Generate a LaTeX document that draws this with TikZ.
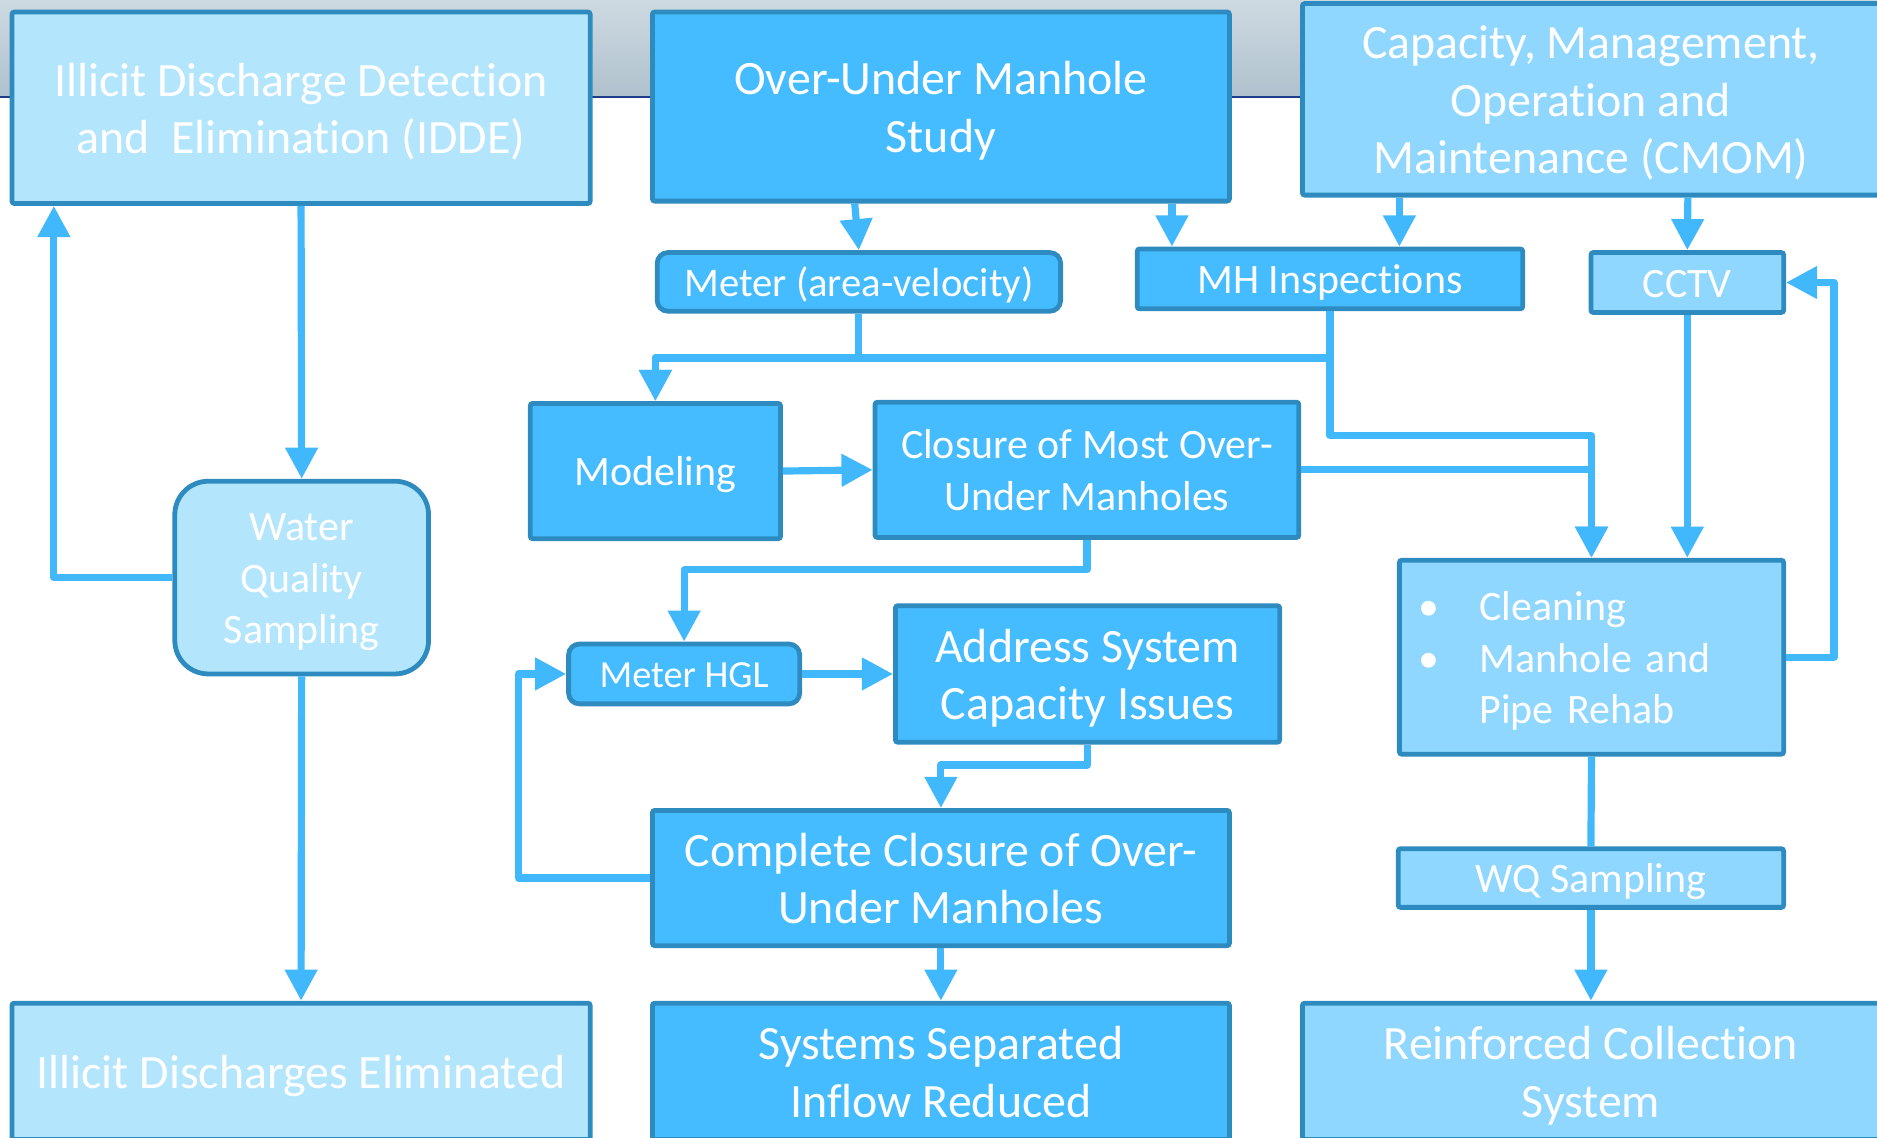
\documentclass[tikz,border=0pt]{standalone}
\usepackage{fontspec}
\setmainfont{Carlito}[Ligatures=NoCommon]
\usetikzlibrary{arrows.meta,calc}
\definecolor{bxlight}{HTML}{B3E5FC}
\definecolor{bxmid}{HTML}{8FD7FF}
\definecolor{bxbright}{HTML}{45BCFF}
\definecolor{bxborder}{HTML}{2E8BC0}
\definecolor{conn}{HTML}{41B8FC}
\definecolor{bandtop}{HTML}{CDD9E1}
\definecolor{bandbot}{HTML}{AFC1CD}
\definecolor{bandline}{HTML}{1E3C8C}
\newcommand\topstrt{\rule{0pt}{0.95em}}
\newcommand\botstrt{\rule[-0.24em]{0pt}{0.24em}}
\tikzset{
  box/.style={draw=bxborder, line width=4pt, rounded corners=2pt, text=white, align=center, inner sep=0pt},
  light/.style={box, fill=bxlight},
  mid/.style={box, fill=bxmid},
  bright/.style={box, fill=bxbright},
  big/.style={font=\fontsize{40}{48}\selectfont},
  small/.style={font=\fontsize{35}{43}\selectfont},
  wh/.style 2 args={minimum width=#1pt, minimum height=#2pt},
  arr/.style={draw=conn, line width=6pt, line join=round, -{Triangle[width=26pt,length=26pt]}},
  ln/.style={draw=conn, line width=6pt, line join=round},
}
\begin{document}
\begin{tikzpicture}[x=1pt,y=-1pt]
\useasboundingbox (0,0) rectangle (1568,950);
% top band
\shade[top color=bandtop, bottom color=bandbot] (0,0) rectangle (1568,81);
\fill[bandline] (0,80) rectangle (1568,82);

% boxes
\node[light, big, wh={483}{160}] (idde) at (251.5,90) {\topstrt Illicit Discharge Detection\\and\ \ Elimination (IDDE)\botstrt};
\node[bright, big, wh={482}{158}] (ou) at (786,89) {\topstrt Over-Under Manhole\\Study\botstrt};
\node[mid, big, wh={482}{160}] (cmom) at (1329,83) {\topstrt Capacity, Management,\\Operation and\\Maintenance (CMOM)\botstrt};
\node[bright, font=\fontsize{34}{43}\selectfont, wh={337}{49}, rounded corners=9pt] (mav) at (717.5,235.5) {\topstrt Meter (area-velocity)\botstrt};
\node[bright, small, wh={322}{50}] (mh) at (1111,233) {\topstrt MH Inspections\botstrt};
\node[mid, small, wh={161}{50}] (cctv) at (1409.5,236) {\topstrt CCTV\botstrt};
\node[bright, small, wh={209}{113}] (model) at (547.5,393.5) {\topstrt Modeling\botstrt};
\node[bright, small, wh={354}{113}] (closure) at (908,392.5) {\topstrt Closure of Most Over-\\Under Manholes\botstrt};
\node[light, small, wh={212}{161}, rounded corners=28pt] (wqs) at (252,482.5) {\topstrt Water\\Quality\\Sampling\botstrt};
\node[bright, font=\fontsize{32}{43}\selectfont, wh={193}{50}, rounded corners=9pt] (hgl) at (571.5,563) {\topstrt Meter HGL\botstrt};
\node[bright, big, wh={321}{114}] (addr) at (908.5,563) {\topstrt Address System\\Capacity Issues\botstrt};
\node[mid, small, wh={321}{162}, align=left, text width=289pt, inner xsep=16pt] (clean) at (1329.5,549)
  {\topstrt\makebox[51pt][l]{\textbullet}Cleaning\\\makebox[51pt][l]{\textbullet}Manhole and\\\hspace*{51pt}Pipe Rehab\botstrt};
\node[mid, small, wh={322}{49}] (wq) at (1329,733.5) {\topstrt WQ Sampling\botstrt};
\node[bright, big, wh={482}{113}] (comp) at (786,733.5) {\topstrt Complete Closure of Over-\\Under Manholes\botstrt};
\node[light, big, wh={483}{114}] (ide) at (251.5,895) {\topstrt Illicit Discharges Eliminated\botstrt};
\node[bright, big, wh={482}{114}] (ss) at (786,895) {\topstrt Systems Separated\\Inflow Reduced\botstrt};
\node[mid, big, wh={482}{114}] (rc) at (1329,895) {\topstrt Reinforced Collection\\System\botstrt};

% connectors
\draw[arr] (idde.south) -- (wqs.north);
\draw[arr] (wqs.west) -| ([xshift=37pt]idde.south west);
\draw[arr] (wqs.south) -- (ide.north);
\draw[arr] ([xshift=-72pt]ou.south) -- (mav.north);
\draw[arr] ([xshift=193pt]ou.south) -- ([xshift=-132pt]mh.north);
\draw[arr] ([xshift=-160pt]cmom.south) -- ([xshift=58pt]mh.north);
\draw[arr] ([xshift=81pt]cmom.south) -- (cctv.north);
\draw[arr] (mav.south) -- ++(0,37) -| (model.north);
\draw[arr] (mh.south) -- ++(0,39) -| (model.north);
\draw[arr] (mh.south) -- ++(0,104) -| (clean.north);
\draw[arr] (closure.east) -| (clean.north);
\draw[arr] (cctv.south) -- ([xshift=80pt]clean.north);
\draw[arr] (clean.east) -- ++(40,0) |- (cctv.east);
\draw[arr] (model.east) -- (closure.west);
\draw[arr] (closure.south) -- ++(0,25) -| (hgl.north);
\draw[arr] (hgl.east) -- (addr.west);
\draw[arr] (addr.south) -- ++(0,17) -| (comp.north);
\draw[arr] (comp.west) -- ++(-110,0) |- (hgl.west);
\draw[arr] (comp.south) -- (ss.north);
\draw[ln] (clean.south) -- (wq.north);
\draw[arr] (wq.south) -- (rc.north);
\end{tikzpicture}
\end{document}
